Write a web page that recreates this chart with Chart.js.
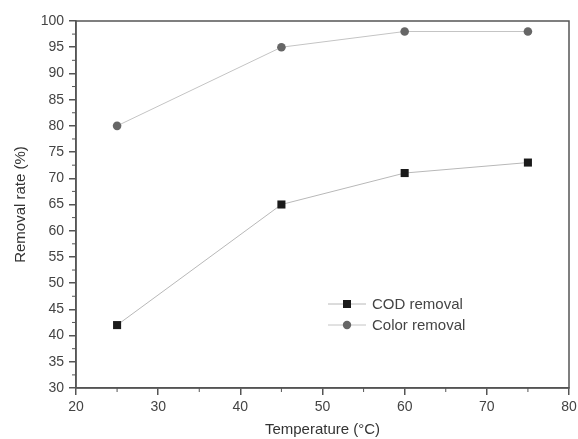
<!DOCTYPE html>
<html lang="en">
<head>
  <meta charset="UTF-8" />
  <title>Removal rate vs temperature</title>
  <script src="https://cdn.jsdelivr.net/npm/chart.js"></script>
  <style>
    html, body { margin: 0; padding: 0; background: #fff; }
    #wrap { width: 578px; height: 439px; }
  </style>
</head>
<body>
  <div id="wrap"><canvas id="chart" width="578" height="439"></canvas></div>

  <script>
    // values
    const temperatures = [25, 45, 60, 75];
    const codRemoval = [42, 65, 71, 73];
    const colorRemoval = [80, 95, 98, 98];
    const xTicks = [20, 30, 40, 50, 60, 70, 80];
    const yTicks = [30, 35, 40, 45, 50, 55, 60, 65, 70, 75, 80, 85, 90, 95, 100];

    const axisColor = '#555';
    const textColor = '#444';
    const font = 'Liberation Sans, Arial, sans-serif';

    // box frame, minor ticks and inset legend
    const framePlugin = {
      id: 'frame',
      afterDraw(chart) {
        const { ctx, chartArea: a, scales } = chart;
        ctx.save();
        ctx.strokeStyle = axisColor;
        ctx.lineWidth = 1.5;
        ctx.strokeRect(a.left, a.top, a.right - a.left, a.bottom - a.top);

        // minor ticks
        ctx.lineWidth = 1;
        for (let i = 0; i < xTicks.length - 1; i++) {
          const px = scales.x.getPixelForValue((xTicks[i] + xTicks[i + 1]) / 2);
          ctx.beginPath();
          ctx.moveTo(px, a.bottom);
          ctx.lineTo(px, a.bottom + 4);
          ctx.stroke();
        }
        for (let i = 0; i < yTicks.length - 1; i++) {
          const py = scales.y.getPixelForValue((yTicks[i] + yTicks[i + 1]) / 2);
          ctx.beginPath();
          ctx.moveTo(a.left, py);
          ctx.lineTo(a.left - 4, py);
          ctx.stroke();
        }

        // legend
        const lx = 328, ly = 304, gap = 21;
        chart.data.datasets.forEach((ds, i) => {
          const y = ly + i * gap;
          ctx.strokeStyle = ds.borderColor;
          ctx.lineWidth = 1;
          ctx.beginPath();
          ctx.moveTo(lx, y);
          ctx.lineTo(lx + 38, y);
          ctx.stroke();
          ctx.fillStyle = ds.pointBackgroundColor;
          if (ds.pointStyle === 'rect') {
            ctx.fillRect(lx + 15, y - 4, 8, 8);
          } else {
            ctx.beginPath();
            ctx.arc(lx + 19, y, 4.2, 0, Math.PI * 2);
            ctx.fill();
          }
          ctx.fillStyle = textColor;
          ctx.font = '15px ' + font;
          ctx.textBaseline = 'middle';
          ctx.fillText(ds.label, lx + 44, y + 1);
        });
        ctx.restore();
      }
    };

    const ctx = document.getElementById('chart').getContext('2d');
    new Chart(ctx, {
      type: 'scatter',
      data: {
        datasets: [
          {
            label: 'COD removal',
            data: temperatures.map((t, i) => ({ x: t, y: codRemoval[i] })),
            showLine: true,
            borderColor: '#b8b8b8',
            borderWidth: 1,
            pointStyle: 'rect',
            pointRadius: 5.7,
            pointBackgroundColor: '#1a1a1a',
            pointBorderWidth: 0
          },
          {
            label: 'Color removal',
            data: temperatures.map((t, i) => ({ x: t, y: colorRemoval[i] })),
            showLine: true,
            borderColor: '#c4c4c4',
            borderWidth: 1,
            pointStyle: 'circle',
            pointRadius: 4.3,
            pointBackgroundColor: '#666',
            pointBorderWidth: 0
          }
        ]
      },
      options: {
        responsive: false,
        animation: false,
        layout: { padding: { top: 21, right: 0, left: 0, bottom: 0 } },
        plugins: {
          legend: { display: false },
          tooltip: { enabled: false }
        },
        scales: {
          x: {
            type: 'linear',
            min: 20,
            max: 80,
            afterBuildTicks: s => { s.ticks = xTicks.map(v => ({ value: v })); },
            afterFit: s => { s.height = 51; s.paddingRight = 9; },
            grid: { drawOnChartArea: false, color: axisColor, tickLength: 7, lineWidth: 1.5 },
            border: { color: axisColor, width: 1.5 },
            ticks: { color: textColor, font: { size: 14, family: font }, padding: 4, maxRotation: 0 },
            title: { display: true, text: 'Temperature (°C)', color: '#333', font: { size: 15, family: font }, padding: { top: 5, bottom: 0 } }
          },
          y: {
            min: 30,
            max: 100,
            afterBuildTicks: s => { s.ticks = yTicks.map(v => ({ value: v })); },
            afterFit: s => { s.width = 76; },
            grid: { drawOnChartArea: false, color: axisColor, tickLength: 7, lineWidth: 1.5 },
            border: { color: axisColor, width: 1.5 },
            ticks: { color: textColor, font: { size: 14, family: font }, padding: 5 },
            title: { display: true, text: 'Removal rate (%)', color: '#333', font: { size: 15, family: font }, padding: { top: 12, bottom: 0 } }
          }
        }
      },
      plugins: [framePlugin]
    });
  </script>
</body>
</html>
